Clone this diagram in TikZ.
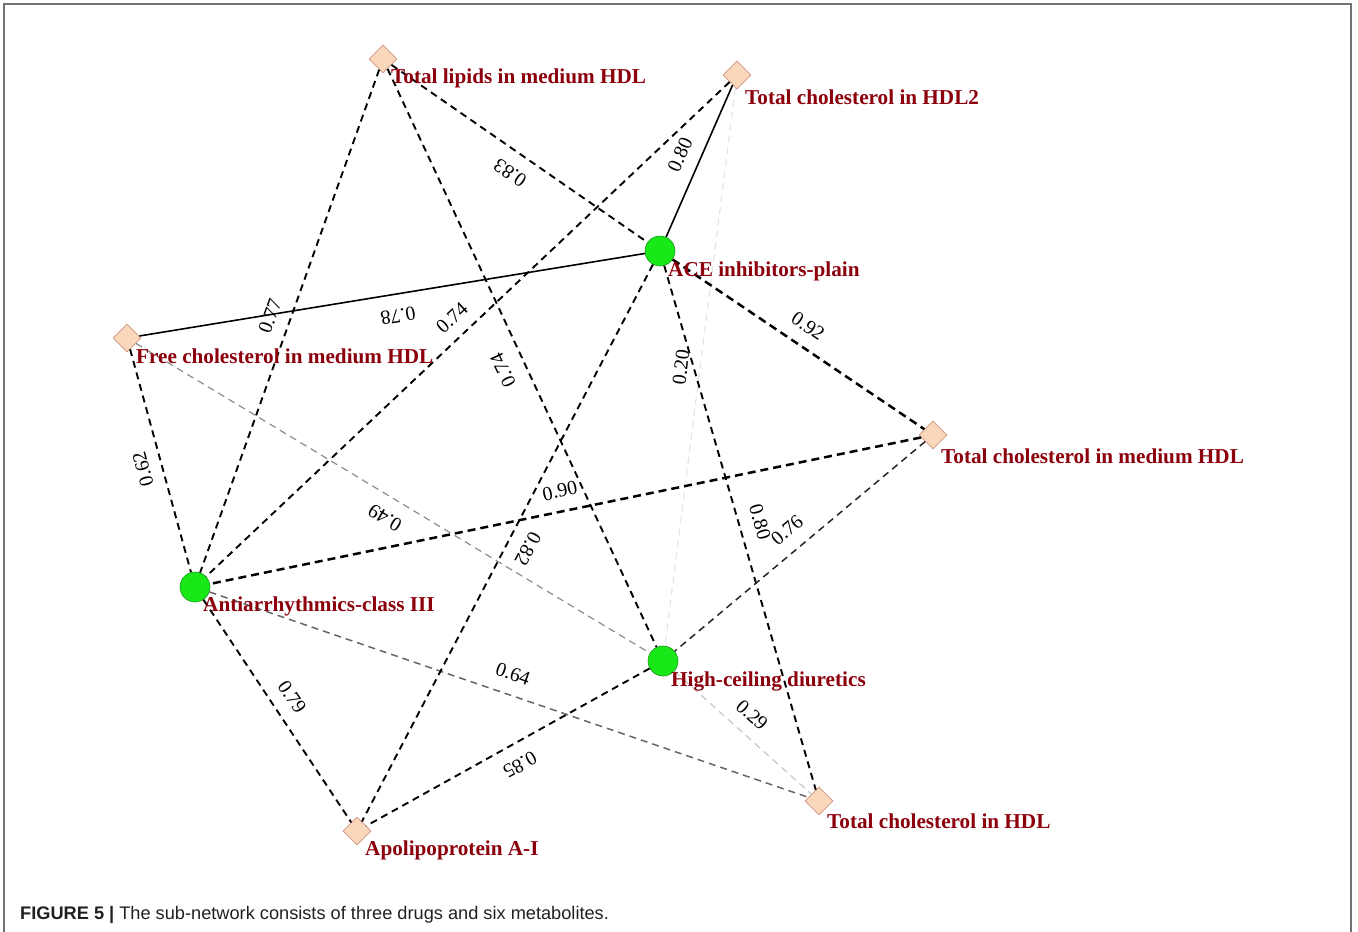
\documentclass[tikz,border=0pt]{standalone}
\usepackage{fontspec}
\setmainfont{Liberation Serif}
\newfontfamily\capfont{Liberation Sans}
\usetikzlibrary{shapes.geometric}
\definecolor{lblred}{RGB}{140,0,12}
\definecolor{peach}{RGB}{250,214,186}
\definecolor{peachb}{RGB}{205,150,130}
\definecolor{gnode}{RGB}{24,232,24}
\definecolor{gnodeb}{RGB}{30,150,30}
\definecolor{capgray}{RGB}{35,31,32}
\begin{document}
\begin{tikzpicture}[x=1pt,y=-1pt,
  met/.style={diamond, draw=peachb, fill=peach, minimum size=28pt, inner sep=0pt, line width=0.8pt},
  drug/.style={circle, draw=gnodeb, fill=gnode, minimum size=30pt, inner sep=0pt, line width=0.6pt},
  lbl/.style={anchor=west, text=lblred, font=\fontsize{21.2}{21.2}\selectfont\bfseries, inner sep=0pt},
  wt/.style={font=\fontsize{20}{20}\selectfont, inner sep=0pt},
  dl/.style={draw=black, line width=1.9pt, dash pattern=on 7pt off 5pt},
  dlthick/.style={draw=black, line width=2.5pt, dash pattern=on 8pt off 5pt},
  dlthin/.style={draw=black!85, line width=1.5pt, dash pattern=on 7pt off 5pt},
  sl/.style={draw=black, line width=1.6pt},
  gl/.style={draw=black!45, line width=1.2pt, dash pattern=on 7pt off 5pt},
  gltwo/.style={draw=black!60, line width=1.5pt, dash pattern=on 7pt off 5pt},
  lgl/.style={draw=black!22, line width=1.2pt, dash pattern=on 7pt off 5pt},
  faint/.style={draw=black!10, line width=1.2pt, dash pattern=on 7pt off 5pt}]
\useasboundingbox (0,0) rectangle (1358,932);
\draw[black!55, line width=1.5pt] (4,932) -- (4,4) -- (1351,4) -- (1351,932);

% nodes
\node[met] (tl) at (383,59) {};
\node[met] (tc2) at (737,75) {};
\node[drug] (ace) at (660,251) {};
\node[met] (fc) at (127,338) {};
\node[met] (tcm) at (933,435) {};
\node[drug] (aa) at (195,587) {};
\node[drug] (hc) at (663,661) {};
\node[met] (tch) at (819,801) {};
\node[met] (apo) at (357,831) {};

% edges
\draw[faint] (tc2) -- (hc);
\draw[lgl] (hc) -- (tch);
\draw[gl] (fc) -- (hc);
\draw[gltwo] (aa) -- (tch);
\draw[dl] (tl) -- (aa);
\draw[dl] (tl) -- (hc);
\draw[dl] (tl) -- (ace);
\draw[sl] (tc2) -- (ace);
\draw[dl] (tc2) -- (aa);
\draw[sl] (ace) -- (fc);
\draw[dlthick] (ace) -- (tcm);
\draw[dl] (ace) -- (apo);
\draw[dl] (ace) -- (tch);
\draw[dl] (fc) -- (aa);
\draw[dlthick] (tcm) -- (aa);
\draw[dlthin] (tcm) -- (hc);
\draw[dl] (aa) -- (apo);
\draw[dl] (hc) -- (apo);

% node labels
\node[lbl] (tlL) at (391,78) {Total lipids in medium HDL};
\node[lbl] (tc2L) at (745,97) {Total cholesterol in HDL2};
\node[lbl] (aceL) at (668,271) {ACE inhibitors-plain};
\node[lbl] (fcL) at (136,356) {Free cholesterol in medium HDL};
\node[lbl] (tcmL) at (941,456) {Total cholesterol in medium HDL};
\node[lbl] (aaL) at (203,606) {Antiarrhythmics-class III};
\node[lbl] (hcL) at (671,681) {High-ceiling diuretics};
\node[lbl] (tchL) at (827,821) {Total cholesterol in HDL};
\node[lbl] (apoL) at (365,850) {Apolipoprotein A-I};

% edge weights
\node[wt, rotate=145] (w1) at (510,173) {0.83};
\node[wt, rotate=66] (w2) at (680,155) {0.80};
\node[wt, rotate=189] (w3) at (398,316) {0.78};
\node[wt, rotate=70] (w4) at (270,316) {0.77};
\node[wt, rotate=43] (w5) at (452,318) {0.74};
\node[wt, rotate=115] (w6) at (503,370) {0.74};
\node[wt, rotate=83] (w7) at (681,367) {0.20};
\node[wt, rotate=-34] (w8) at (808,326) {0.92};
\node[wt, rotate=105] (w9) at (143,469) {0.62};
\node[wt, rotate=149] (w10) at (385,518) {0.49};
\node[wt, rotate=12] (w11) at (560,491) {0.90};
\node[wt, rotate=242] (w12) at (528,549) {0.82};
\node[wt, rotate=-74] (w13) at (760,522) {0.80};
\node[wt, rotate=40] (w14) at (787,530) {0.76};
\node[wt, rotate=-56] (w15) at (292,697) {0.79};
\node[wt, rotate=-19] (w16) at (513,674) {0.64};
\node[wt, rotate=209] (w17) at (520,765) {0.85};
\node[wt, rotate=-42] (w18) at (752,715) {0.29};

% caption
\node[anchor=base west, inner sep=0pt, text=capgray, font=\capfont\fontsize{18.2}{18.2}\selectfont] (cap) at (20,919) {\textbf{FIGURE 5 |} The sub-network consists of three drugs and six metabolites.};
\end{tikzpicture}
\end{document}
